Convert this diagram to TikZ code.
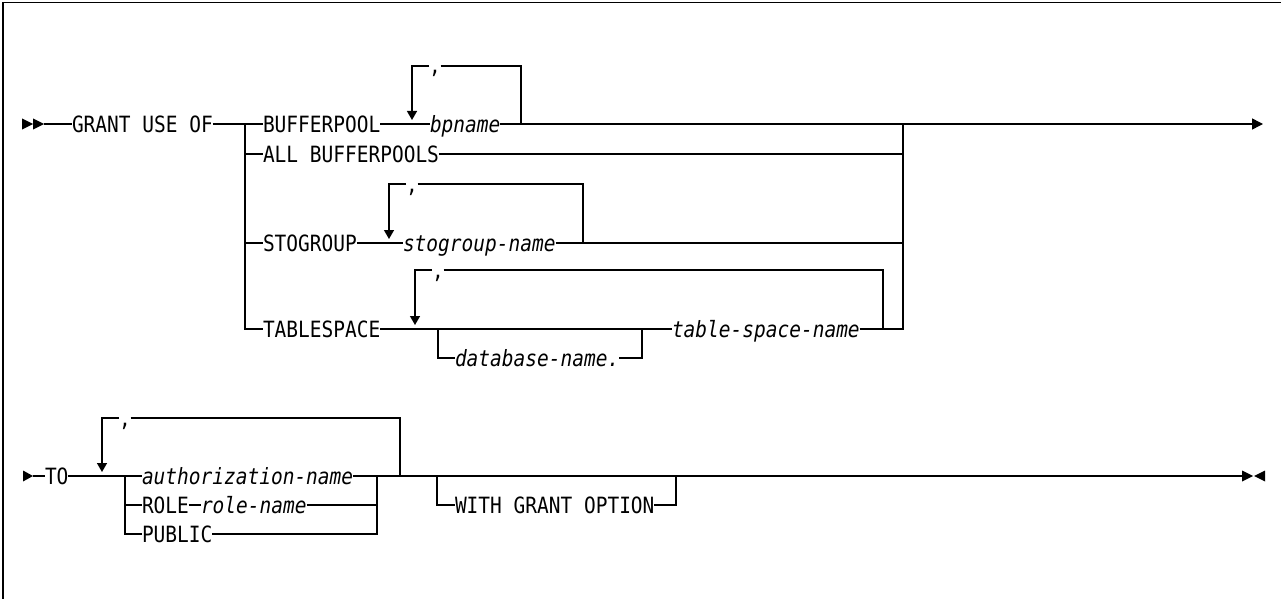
\documentclass[tikz,border=0pt]{standalone}
\usepackage{fontspec}
\newfontfamily\rrfont[FakeStretch=0.87]{DejaVu Sans Mono}
\newcommand{\rrsz}{\rrfont\fontsize{22.4}{26}\selectfont}
\usetikzlibrary{arrows.meta,calc}
\begin{document}
\begin{tikzpicture}[x=1pt,y=-1pt,line width=1.4pt,
  kw/.style={inner sep=0pt,outer sep=0pt,anchor=base west,font=\rrsz},
  var/.style={kw,font=\rrsz\itshape},
  downtip/.style={-{Triangle[length=9pt,width=10pt]}},
  endtip/.style={-{Triangle[length=11pt,width=11pt]}},
  solidmark/.style={fill=black,draw=none},
  frame/.style={line width=1.5pt}]
\useasboundingbox (0,0) rectangle (1281,599);
% frame
\coordinate (fa) at (3,599);
\coordinate (fb) at (3,2.5);
\coordinate (fc) at (1281,2.5);
\draw[frame] (fa) -- (fb) -- (fc);

% ---------- row 1 ----------
\fill[solidmark] (22,118.5) -- (33,124) -- (22,129.5) -- cycle;
\fill[solidmark] (33,118.5) -- (44,124) -- (33,129.5) -- cycle;
\coordinate (s1) at (44,124);
\node[kw] (grant) at (72,132) {GRANT USE OF};
\coordinate (jA) at (245,124);
\draw (s1) -- (grant.west |- s1);
\draw (grant.east |- s1) -- (jA);

\node[kw] (bufp) at (263,132) {BUFFERPOOL};
\coordinate (bpL) at (412,124);
\coordinate (bpLt) at (412,66);
\coordinate (bpR) at (521,124);
\coordinate (bpRt) at (521,66);
\node[kw] (bpc) at (429,74) {,};
\node[var] (bpn) at (430,132) {bpname};
\draw (jA) -- (bufp.west |- jA);
\draw (bufp.east |- jA) -- (bpn.west |- jA);
\draw[downtip] (bpc.west |- bpLt) -- (bpLt) -- ($(bpL)+(0,-4)$);
\draw (bpc.east |- bpLt) -- (bpRt) -- (bpR);
\coordinate (jB) at (903,124);
\coordinate (e1) at (1263,124);
\draw (bpn.east |- jA) -- (jB);
\draw[endtip] (jB) -- (e1);

% ALL BUFFERPOOLS
\coordinate (jA2) at (245,154);
\coordinate (jB2) at (903,154);
\node[kw] (allbp) at (263,162) {ALL BUFFERPOOLS};
\draw (jA2) -- (allbp.west |- jA2);
\draw (allbp.east |- jA2) -- (jB2);

% STOGROUP
\coordinate (jA3) at (245,243);
\coordinate (jB3) at (903,243);
\node[kw] (stog) at (263,251) {STOGROUP};
\coordinate (sgL) at (389,243);
\coordinate (sgLt) at (389,184);
\coordinate (sgR) at (583,243);
\coordinate (sgRt) at (583,184);
\node[kw] (sgc) at (406,192) {,};
\node[var] (sgn) at (403,251) {stogroup-name};
\draw (jA3) -- (stog.west |- jA3);
\draw (stog.east |- jA3) -- (sgn.west |- jA3);
\draw[downtip] (sgc.west |- sgLt) -- (sgLt) -- ($(sgL)+(0,-4)$);
\draw (sgc.east |- sgLt) -- (sgRt) -- (sgR);
\draw (sgn.east |- jA3) -- (jB3);

% TABLESPACE
\coordinate (jA4) at (245,329);
\coordinate (jB4) at (903,329);
\node[kw] (tbs) at (263,337) {TABLESPACE};
\coordinate (tsL) at (415,329);
\coordinate (tsLt) at (415,270);
\coordinate (tsR) at (883,329);
\coordinate (tsRt) at (883,270);
\node[kw] (tsc) at (432,278) {,};
\coordinate (oL) at (438,329);
\coordinate (oLb) at (438,358);
\coordinate (oR) at (642,329);
\coordinate (oRb) at (642,358);
\node[var] (dbn) at (455,366) {database-name.};
\node[var] (tsn) at (672,337) {table-space-name};
\draw (tbs.east |- jA4) -- (tsn.west |- jA4);
\draw (oL) -- (oLb) -- (dbn.west |- oLb);
\draw (dbn.east |- oLb) -- (oRb) -- (oR);
\draw[downtip] (tsc.west |- tsLt) -- (tsLt) -- ($(tsL)+(0,-4)$);
\draw (tsc.east |- tsLt) -- (tsRt) -- (tsR);
\draw (tsn.east |- jA4) -- (jB4) -- (jB);
\draw (jA) -- (jA4) -- (tbs.west |- jA4);

% ---------- row 2 ----------
\fill[solidmark] (23,470.5) -- (33,476) -- (23,481.5) -- cycle;
\coordinate (s2) at (33,476);
\node[kw] (to) at (45,484) {TO};
\coordinate (jC) at (125,476);
\coordinate (jC2) at (125,505);
\coordinate (jC3) at (125,534);
\coordinate (lpL) at (102,476);
\coordinate (lpLt) at (102,418);
\coordinate (lpR) at (400,476);
\coordinate (lpRt) at (400,418);
\node[kw] (lpc) at (119,426) {,};
\node[var] (auth) at (142,484) {authorization-name};
\node[kw] (role) at (142,513) {ROLE};
\node[var] (rname) at (201,513) {role-name};
\node[kw] (pub) at (142,542) {PUBLIC};
\coordinate (jD) at (377,476);
\coordinate (jD2) at (377,505);
\coordinate (jD3) at (377,534);
\draw (s2) -- (to.west |- s2);
\draw (to.east |- s2) -- (jC);
\draw[downtip] (lpc.west |- lpLt) -- (lpLt) -- ($(lpL)+(0,-4)$);
\draw (lpc.east |- lpLt) -- (lpRt) -- (lpR);
\draw (jC) -- (auth.west |- jC);
\draw (jC2) -- (role.west |- jC2);
\draw (role.east |- jC2) -- (rname.west |- jC2);
\draw (rname.east |- jC2) -- (jD2);
\draw (jC) -- (jC3) -- (pub.west |- jC3);
\draw (pub.east |- jC3) -- (jD3) -- (jD);
\draw (auth.east |- jC) -- (jD);

\coordinate (wL) at (437,476);
\coordinate (wLb) at (437,505);
\coordinate (wR) at (676,476);
\coordinate (wRb) at (676,505);
\node[kw] (wgo) at (455,513) {WITH GRANT OPTION};
\draw (wL) -- (wLb) -- (wgo.west |- wLb);
\draw (wgo.east |- wLb) -- (wRb) -- (wR);

\coordinate (e2) at (1242,476);
\draw (jD) -- (e2);
\coordinate (tk1) at (682,476);
\coordinate (tk2) at (705,476);
\draw[line width=2.4pt] (tk1) -- (tk2);
\fill[solidmark] (1242,470.5) -- (1253,476) -- (1242,481.5) -- cycle;
\fill[solidmark] (1265,470.5) -- (1254,476) -- (1265,481.5) -- cycle;
\end{tikzpicture}
\end{document}
